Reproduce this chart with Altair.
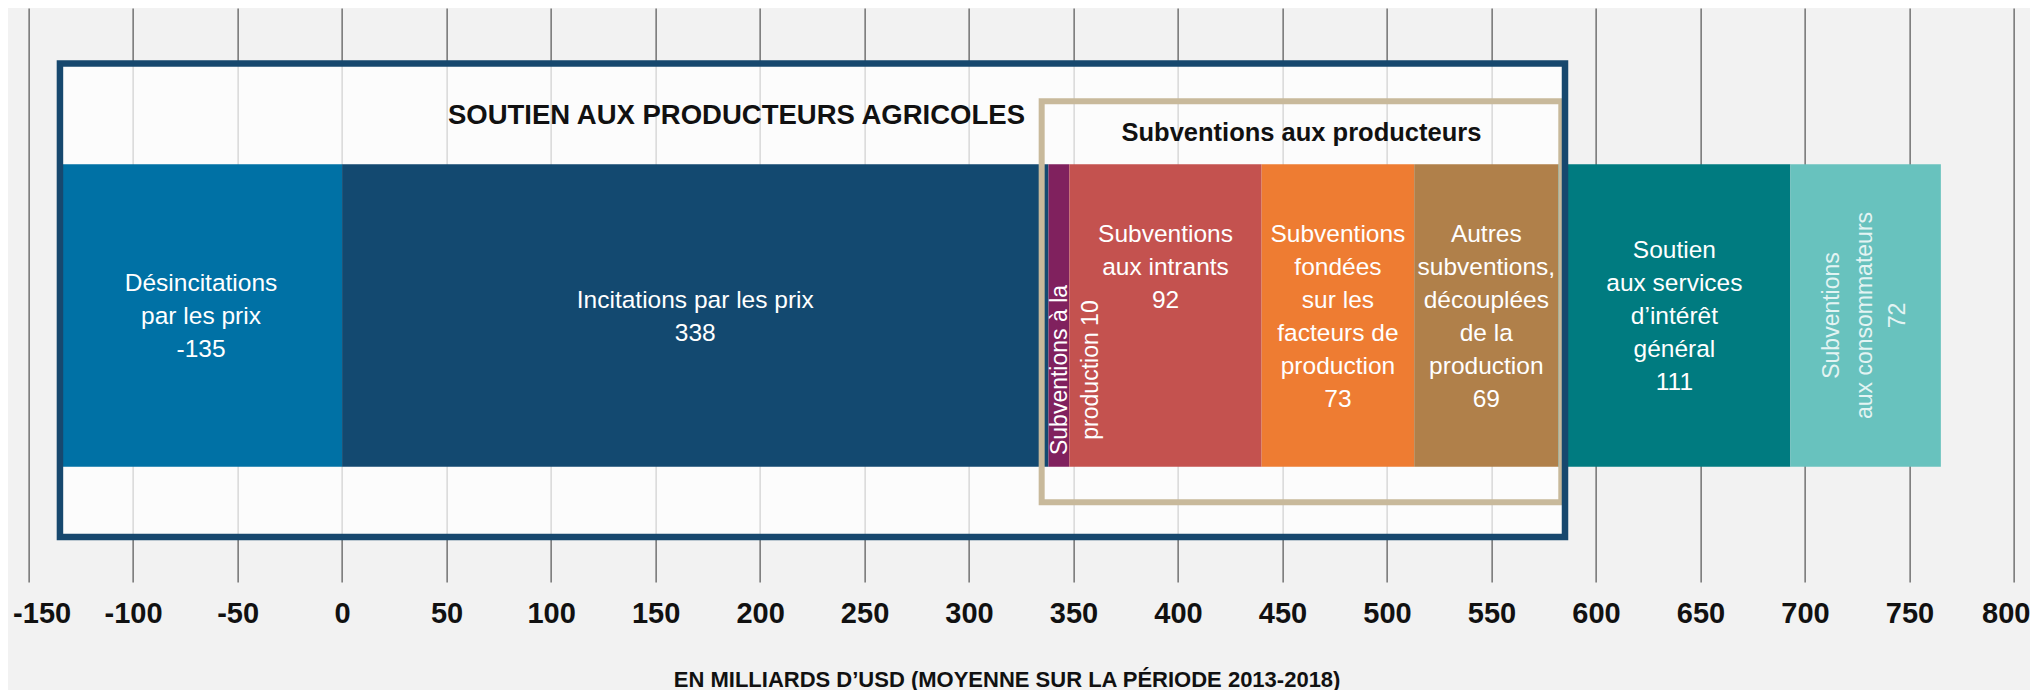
import altair as alt
import pandas as pd

# ---------------- data ----------------
categories = [
    "Désincitations par les prix",
    "Incitations par les prix",
    "Subventions à la production",
    "Subventions aux intrants",
    "Subventions fondées sur les facteurs de production",
    "Autres subventions, découplées de la production",
    "Soutien aux services d’intérêt général",
    "Subventions aux consommateurs",
]
values = [-135, 338, 10, 92, 73, 69, 111, 72]
label_lines = [
    "Désincitations\npar les prix",
    "Incitations par les prix",
    "Subventions à la\nproduction",
    "Subventions\naux intrants",
    "Subventions\nfondées\nsur les\nfacteurs de\nproduction",
    "Autres\nsubventions,\ndécouplées\nde la\nproduction",
    "Soutien\naux services\nd’intérêt\ngénéral",
    "Subventions\naux consommateurs",
]
value_sep = ["\n", "\n", " ", "\n", "\n", "\n", "\n", "\n"]
colors = ["#0071A5", "#134970", "#80215E", "#C4524F", "#EE7C32", "#B0804A", "#007B80", "#68C2BE"]
tick_values = list(range(-150, 801, 50))
group_title = "SOUTIEN AUX PRODUCTEURS AGRICOLES"
subgroup_title = "Subventions aux producteurs"
axis_title = "EN MILLIARDS D’USD (MOYENNE SUR LA PÉRIODE 2013-2018)"

# ---------------- derived table ----------------
starts, ends = [], []
cum = 0
for v in values:
    if v < 0:
        starts.append(cum + v)
        ends.append(cum)
    else:
        starts.append(cum)
        ends.append(cum + v)
        cum += v

labels = [l + s + str(v) for l, s, v in zip(label_lines, value_sep, values)]
df = pd.DataFrame({
    "category": categories,
    "value": values,
    "start": starts,
    "end": ends,
    "mid": [(s + e) / 2 for s, e in zip(starts, ends)],
    "label": labels,
    "idx": list(range(len(values))),
})

outer_df = pd.DataFrame({"start": [starts[0]], "end": [ends[5]]})
inner_df = pd.DataFrame({"start": [starts[2]], "end": [ends[5]]})
group_df = pd.DataFrame({"x": [starts[2]], "text": [group_title]})
sub_df = pd.DataFrame({"x": [(starts[2] + ends[5]) / 2], "text": [subgroup_title]})

FONT = "Liberation Sans, Arial, sans-serif"

xscale = alt.Scale(domain=[-150, 800], nice=False, zero=False)
xaxis = alt.Axis(
    values=tick_values, title=axis_title, labelExpr="toString(datum.value)",
    grid=True, gridColor="#333333", gridWidth=1, domain=False, ticks=False, tickSize=0,
    labelFont=FONT, labelFontSize=29, labelFontWeight="bold", labelColor="#111111",
    labelPadding=17, labelFlush=True, labelFlushOffset=16, labelOverlap=False,
    titleFont=FONT, titleFontSize=22, titleFontWeight="bold", titleColor="#111111",
    titleBaseline="top", titleY=87, titleX=978, titleAlign="center",
)


def X(field):
    return alt.X(field, scale=xscale, axis=xaxis, title=axis_title)


BAR_Y, BAR_Y2 = 156.3, 458.7
BAR_C = (BAR_Y + BAR_Y2) / 2
LH = 33
LABEL_SIZE = 24.5

outer_fill = alt.Chart(outer_df).mark_rect(
    fill="white", fillOpacity=0.72, strokeWidth=0, x2Offset=6.6
).encode(x=X("start:Q"), x2="end:Q", y=alt.value(55.4), y2=alt.value(529))

bars = alt.Chart(df).mark_rect(strokeWidth=0).encode(
    x=X("start:Q"), x2="end:Q",
    y=alt.value(BAR_Y), y2=alt.value(BAR_Y2),
    color=alt.Color("category:N", scale=alt.Scale(domain=categories, range=colors), legend=None),
)

inner_box = alt.Chart(inner_df).mark_rect(
    fill="white", fillOpacity=0, stroke="#C8B99B", strokeWidth=6, xOffset=-6.8, x2Offset=2.9
).encode(x=X("start:Q"), x2="end:Q", y=alt.value(93.3), y2=alt.value(494.2))

outer_stroke = alt.Chart(outer_df).mark_rect(
    fill="white", fillOpacity=0, stroke="#17486E", strokeWidth=6.5, x2Offset=6.6
).encode(x=X("start:Q"), x2="end:Q", y=alt.value(55.4), y2=alt.value(529))

# horizontal labels, one layer per bar so that each block can be centred
n_lines = [lab.count("\n") + 1 for lab in labels]
top_ref = max(n_lines[3:6])
text_layers = []
for i in [0, 1, 3, 4, 5, 6]:
    n = top_ref if i == 3 else n_lines[i]
    first = BAR_C - (n - 1) * LH / 2 + 1.8
    text_layers.append(
        alt.Chart(df).transform_filter(f"datum.idx == {i}").mark_text(
            font=FONT, fontSize=LABEL_SIZE, color="white", align="center", baseline="middle",
            lineBreak="\n", lineHeight=LH,
        ).encode(x=X("mid:Q"), y=alt.value(first), text="label:N")
    )

rot_prod = alt.Chart(df).transform_filter("datum.idx == 2").mark_text(
    font=FONT, fontSize=23, color="white", align="center", baseline="middle",
    lineBreak="\n", lineHeight=31, angle=270, xOffset=1,
).encode(x=X("mid:Q"), y=alt.value(BAR_C + 54.5), text="label:N")

rot_cons = alt.Chart(df).transform_filter("datum.idx == 7").mark_text(
    font=FONT, fontSize=23, color="white", opacity=0.82, align="center", baseline="middle",
    lineBreak="\n", lineHeight=33, angle=270, xOffset=-33.5,
).encode(x=X("mid:Q"), y=alt.value(BAR_C), text="label:N")

group_text = alt.Chart(group_df).mark_text(
    font=FONT, fontSize=27.5, fontWeight="bold", color="#111111", align="right",
    baseline="middle", xOffset=-23.5,
).encode(x=X("x:Q"), y=alt.value(107.5), text="text:N")

sub_text = alt.Chart(sub_df).mark_text(
    font=FONT, fontSize=25.5, fontWeight="bold", color="#111111", align="center",
    baseline="middle", xOffset=-2,
).encode(x=X("x:Q"), y=alt.value(124.8), text="text:N")

chart = alt.layer(
    outer_fill, bars, inner_box, outer_stroke,
    *text_layers, rot_prod, rot_cons, group_text, sub_text,
).properties(
    width=1985.4, height=574,
    padding={"left": 20.6, "top": 0, "right": 16, "bottom": 108},
    autosize=alt.AutoSizeParams(type="none"),
    background="#f2f2f2",
).configure_view(strokeWidth=0, fill=None)

chart.save("out.html", embed_options={"renderer": "svg", "actions": False})
